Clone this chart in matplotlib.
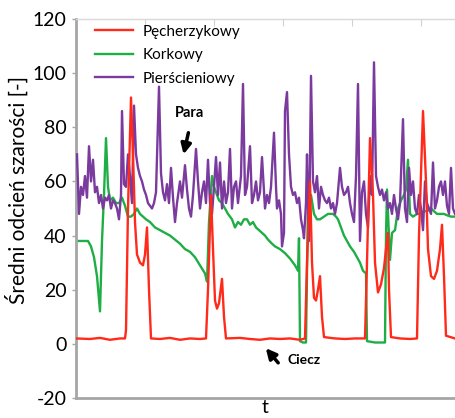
import numpy as np
import matplotlib.pyplot as plt

plt.rcParams['font.family'] = ['Lato', 'DejaVu Sans']
plt.rcParams['axes.unicode_minus'] = False

# time axis in arbitrary units (0..379), values = mean grey level
t_red = [0, 14, 24, 34, 44, 49, 50, 52, 55, 57, 59, 61, 64, 67, 69, 71, 73, 75,
         84, 94, 104, 114, 124, 130, 132, 135, 137, 139, 141, 143, 146, 148, 150,
         164, 174, 184, 194, 204, 214, 224, 229, 231, 234, 236, 238, 240, 242, 244,
         246, 248, 259, 269, 279, 289, 291, 294, 297, 299, 302, 305, 308, 310, 312,
         313, 315, 324, 334, 341, 343, 347, 350, 352, 355, 358, 361, 364, 366, 368,
         370, 379]
v_red = [2, 1.8, 2.2, 1.5, 2, 2, 5, 50, 91, 70, 45, 33, 30, 29, 33, 43, 20, 2,
         1.8, 2.2, 1.5, 2, 1.8, 2, 20, 55, 35, 16, 13, 15, 24, 10, 2,
         2.2, 1.8, 1.5, 2, 1.8, 2, 1.5, 2, 30, 60, 30, 17, 16, 20, 25,
         10, 2.5, 2, 1.8, 2, 2, 30, 76, 55, 30, 19, 22, 28, 35, 41,
         20, 2.5, 2, 1.8, 2, 40, 86, 60, 35, 25, 24, 27, 35, 44, 25,
         3, 2]

t_green = [0, 12, 15, 18, 21, 24, 26, 28, 30, 32, 34, 37, 40, 43, 46, 49, 52, 55,
           58, 61, 64, 67, 70, 74, 79, 84, 89, 94, 99, 104, 109, 114, 119, 124,
           129, 131, 133, 136, 138, 140, 143, 146, 149, 152, 156, 159, 162, 165,
           168, 171, 174, 177, 180, 183, 186, 189, 192, 196, 199, 204, 209, 214,
           219, 222, 223, 224, 227, 230, 232, 235, 238, 241, 244, 248, 252, 257,
           260, 262, 265, 268, 271, 274, 278, 281, 284, 287, 290, 291, 299, 309,
           310, 311, 314, 316, 319, 322, 325, 328, 330, 332, 334, 337, 341, 344,
           348, 351, 355, 358, 361, 364, 368, 371, 375, 379]
v_green = [38, 38, 36, 32, 25, 12, 38, 55, 76, 58, 53, 54, 52, 52, 54, 51, 47, 47,
           48, 50, 48, 47, 46, 45, 43, 42, 41, 40, 38.5, 37, 35, 34, 32, 29,
           26, 23, 45, 62, 58, 56, 53, 52, 50, 48, 46, 43, 45, 44,
           46, 46, 44, 45, 43, 42, 41, 40, 38.5, 37, 36, 35, 33.5, 31.5,
           29, 27, 39, 1, 0.5, 0.5, 52, 55, 48, 46, 46, 47, 48, 48,
           47, 46, 43, 40, 38, 36, 34, 32, 30, 27, 26, 1, 0.5, 0.5,
           40, 57, 31, 41, 42, 50, 53, 55, 57, 68, 48, 47, 48, 48,
           49, 49, 50, 49, 48, 48, 48, 47.5, 47, 47]

t_purple = [1, 3, 5, 7, 9, 11, 13, 15, 17, 19, 21, 23, 25, 27, 29, 31, 33, 35, 37,
            39, 41, 43, 45, 46, 48, 50, 52, 54, 56, 58, 60, 62, 64, 66, 68, 70, 72,
            74, 76, 78, 80, 83, 85, 87, 89, 91, 93, 95, 97, 99, 101, 104, 106, 109,
            111, 113, 115, 117, 120, 122, 124, 126, 128, 130, 132, 134, 136, 138,
            140, 142, 144, 146, 148, 150, 152, 154, 156, 158, 160, 162, 165, 167,
            169, 171, 174, 176, 178, 180, 182, 184, 186, 189, 191, 193, 195, 198,
            200, 201, 203, 205, 206, 208, 209, 211, 213, 215, 217, 219, 221, 223,
            225, 227, 228, 230, 231, 233, 235, 237, 239, 241, 243, 245, 247, 249,
            251, 253, 255, 257, 259, 261, 264, 266, 268, 270, 272, 274, 276, 278,
            280, 282, 284, 286, 288, 290, 292, 294, 296, 298, 300, 302, 304, 306,
            308, 310, 312, 314, 316, 318, 320, 322, 324, 327, 329, 331, 333, 335,
            337, 339, 341, 343, 345, 347, 349, 351, 353, 355, 357, 359, 361, 363,
            365, 367, 369, 371, 373, 375, 377, 379]
v_purple = [70, 48, 58, 55, 62, 54, 73, 60, 68, 56, 58, 52, 55, 50, 54, 53, 55, 50, 53,
            52, 50, 46, 55, 86, 59, 58, 70, 62, 52, 88, 70, 65, 62, 60, 57, 55, 52,
            51, 50, 52, 56, 95, 63, 56, 53, 59, 52, 65, 54, 45, 52, 60, 54, 66,
            57, 50, 47, 55, 72, 60, 50, 56, 60, 52, 68, 52, 48, 58,
            69, 55, 67, 50, 60, 52, 56, 72, 50, 58, 60, 52, 62, 96,
            55, 58, 73, 52, 55, 60, 53, 56, 69, 50, 55, 52, 58, 78,
            58, 50, 53, 48, 36, 41, 86, 93, 70, 58, 55, 56, 52, 54,
            46, 42, 39, 52, 70, 38, 99, 60, 56, 62, 50, 58, 55, 53,
            52, 54, 50, 52, 48, 52, 65, 58, 55, 56, 58, 52, 48, 45,
            62, 96, 38, 56, 60, 48, 43, 62, 55, 104, 62, 58, 55, 57,
            53, 56, 50, 52, 48, 55, 50, 46, 52, 83, 50, 45, 65, 55,
            60, 50, 48, 55, 50, 42, 60, 52, 50, 48, 67, 50, 53, 58,
            60, 55, 60, 51, 48, 65, 50, 48]

labels = ['Pęcherzykowy', 'Korkowy', 'Pierścieniowy']
colors = ['#ff2a1a', '#1fae45', '#7a3a9e']

fig = plt.figure(figsize=(4.55, 4.18), dpi=100)
ax = fig.add_axes([76 / 455, 20 / 418, 379 / 455, 379 / 418])

l_red, = ax.plot(t_red, v_red, color=colors[0], lw=1.7, zorder=4)
l_green, = ax.plot(t_green, v_green, color=colors[1], lw=1.7, zorder=2)
l_purple, = ax.plot(t_purple, v_purple, color=colors[2], lw=1.7, zorder=3)

ax.set_xlim(0, 379)
ax.set_ylim(-20, 120)
ax.set_yticks(np.arange(-20, 121, 20))
ax.tick_params(axis='y', labelsize=14, length=3, width=1, color='#a6a6a6', pad=4)

# ticks only on the top line, no labels
ax.xaxis.set_ticks_position('top')
ax.set_xticks(np.arange(0, 380, 69))
ax.tick_params(axis='x', direction='in', length=5, color='#d0d0d0', labeltop=False,
               labelbottom=False)
ax.xaxis.set_label_position('bottom')
ax.set_xlabel('t', fontsize=14, labelpad=1)
ax.set_ylabel('Średni odcień szarości [-]', fontsize=15)
ax.yaxis.set_label_coords(-0.125, 0.55)

for s in ['left', 'bottom']:
    ax.spines[s].set_color('#a6a6a6')
    ax.spines[s].set_linewidth(2)
ax.spines['top'].set_color('#d9d9d9')
ax.spines['top'].set_linewidth(1)
ax.spines['right'].set_visible(False)

ax.legend([l_red, l_green, l_purple], labels, loc='upper left', frameon=False,
          fontsize=11, handlelength=2.5, handletextpad=0.6, labelspacing=0.62,
          borderpad=0, borderaxespad=0, bbox_to_anchor=(0.05, 0.985))

arrow = dict(arrowstyle='-|>', color='black', lw=2.5, mutation_scale=15)
ax.annotate('', xy=(107, 69), xytext=(113, 79), arrowprops=arrow)
ax.text(113, 85.3, 'Para', fontsize=10.5, fontweight='bold', ha='center', va='center')
ax.annotate('', xy=(188, -0.8), xytext=(204, -7.8), arrowprops=arrow)
ax.text(211, -5.9, 'Ciecz', fontsize=10, fontweight='bold', ha='left', va='center')

fig.savefig('out.png', dpi=100)
